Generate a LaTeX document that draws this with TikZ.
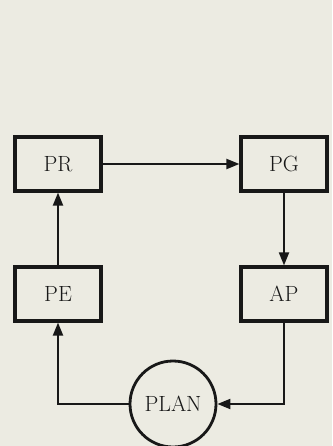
\documentclass[tikz,border=0pt]{standalone}
\usetikzlibrary{arrows.meta}
\definecolor{paper}{RGB}{236,235,226}
\definecolor{ink}{RGB}{24,24,24}
\begin{document}
\begin{tikzpicture}[x=1pt,y=-1pt,
  box/.style={draw=ink, line width=3.2pt, fill=paper, minimum width=86pt, minimum height=54pt, inner sep=0pt, text=ink, font=\fontsize{22}{26}\selectfont},
  ring/.style={circle, draw=ink, line width=2.8pt, fill=paper, minimum size=86pt, inner sep=0pt, text=ink, font=\fontsize{22}{26}\selectfont},
  conn/.style={draw=ink, line width=2pt, -{Triangle[length=13pt,width=10pt]}}]
\fill[paper] (0,0) rectangle (332,446);
\useasboundingbox (0,0) rectangle (332,446);
\node[box] (pr) at (58,164) {PR};
\node[box] (pg) at (284,164) {PG};
\node[box] (pe) at (58,294) {PE};
\node[box] (ap) at (284,294) {AP};
\node[ring] (plan) at (173,404) {PLAN};
\draw[conn] (pr) -- (pg);
\draw[conn] (pg) -- (ap);
\draw[conn] (pe) -- (pr);
\draw[conn] (plan.west) -| (pe.south);
\draw[conn] (ap.south) |- (plan.east);
\end{tikzpicture}
\end{document}
